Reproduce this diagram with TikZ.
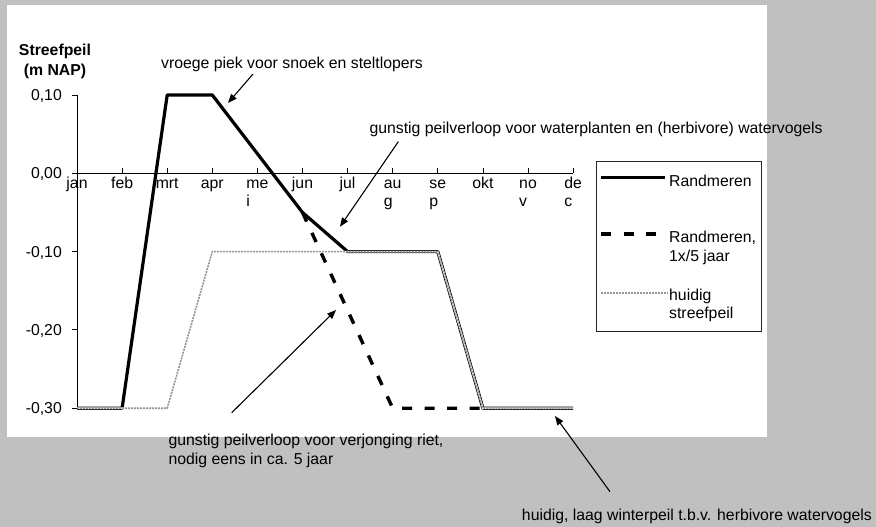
\documentclass[tikz,border=0pt]{standalone}
\usepackage{fontspec}
\setmainfont{Liberation Sans}
\usetikzlibrary{arrows.meta}

\definecolor{achtergrond}{RGB}{192,192,192}
\definecolor{huidiggrijs}{RGB}{150,150,150}

\begin{document}
\begin{tikzpicture}[x=1pt,y=-1pt,
    every node/.style={font=\fontsize{15.8}{17.7}\selectfont,inner sep=0pt},
    pijl/.style={-{Triangle[length=9pt,width=7pt]},line width=1.1pt},
    randlijn/.style={line width=3.2pt,line join=round},
    vijfjaar/.style={line width=3.4pt,dash pattern=on 10pt off 12.5pt},
    onder/.style={line width=1.6pt,white},
    huidiglijn/.style={line width=1.6pt,huidiggrijs,dash pattern=on 2pt off 1pt}]

    \path[use as bounding box,fill=achtergrond] (0,0) rectangle (876,527);
    \fill[white] (7,5) rectangle (767,437);

    \node[font=\fontsize{15.8}{17.7}\selectfont\bfseries,align=center,anchor=north] (titel) at (55,42.6) {\strut Streefpeil\\[2.3pt](m NAP)};

    \begin{scope}[shift={(77pt,-173.3pt)},x=45.1pt,y=783pt]
    % assen
    \draw[line width=0.8pt] (0,0) -- (11,0);
    \draw[line width=0.8pt] (0,0.10) -- (0,-0.30);
    \foreach \m in {1,...,11}
        \draw[line width=0.8pt] (\m,0) -- ++(0,5pt);
    \foreach \v/\tekst [count=\k] in {0.10/{0,10},0.00/{0,00},-0.10/{-0,10},-0.20/{-0,20},-0.30/{-0,30}}
    {
        \draw[line width=0.8pt] (0,\v) -- ++(-5pt,0);
        \node[anchor=base east] (yl\k) at ([xshift=-15pt,yshift=-5.5pt]0,\v) {\tekst};
    }
    \foreach \maand [count=\k from 0] in {jan,feb,mrt,apr,{me\\i},jun,jul,{au\\g},{se\\p},okt,{no\\v},{de\\c}}
        \node[anchor=north,align=left] (m\k) at ([yshift=-2.7pt]\k,0) {\strut\maand};

    % reeksen
    \draw[randlijn] (0,-0.30) -- (1,-0.30) -- (2,0.10) -- (3,0.10) -- (5,-0.05) -- (6,-0.10)
        -- (8,-0.10) -- (9,-0.30) -- (11,-0.30);
    \draw[vijfjaar] (5,-0.05) -- (7,-0.30) -- (9,-0.30);
    \draw[onder] (0,-0.30) -- (2,-0.30) -- (3,-0.10) -- (8,-0.10) -- (9,-0.30) -- (11,-0.30);
    \draw[huidiglijn] (0,-0.30) -- (2,-0.30) -- (3,-0.10) -- (8,-0.10) -- (9,-0.30) -- (11,-0.30);
    \end{scope}

    % legenda
    \draw[line width=0.8pt,black!85] (596,161.5) rectangle (761.5,331.7);
    \draw[randlijn] (601,177.3) -- (665,177.3);
    \node[anchor=base west] (legRand) at (669,186.7) {Randmeren};
    \draw[vijfjaar] (601,234) -- (665,234);
    \node[anchor=north west,align=left] (legVijf) at (669,230.3) {\strut Randmeren,\\[1.3pt]1x/5 jaar};
    \draw[onder] (601,292.7) -- (668,292.7);
    \draw[huidiglijn] (601,292.7) -- (668,292.7);
    \node[anchor=north west,align=left] (legHuidig) at (669,287.6) {\strut huidig\\[0.6pt]streefpeil};

    % toelichting
    \node[anchor=base west] (piek) at (161,68.3) {vroege piek voor snoek en steltlopers};
    \coordinate (piekStart) at (253,74);
    \coordinate (piekEind) at (228,103);
    \draw[pijl] (piekStart) -- (piekEind);

    \node[anchor=base west] (waterplanten) at (369.3,133.3) {gunstig peilverloop voor waterplanten en (herbivore) watervogels};
    \coordinate (plantStart) at (398.3,141.7);
    \coordinate (plantEind) at (340,226.7);
    \draw[pijl] (plantStart) -- (plantEind);

    \node[anchor=north west,align=left] (riet) at (168.3,432.6) {\strut gunstig peilverloop voor verjonging riet,\\[1.3pt]nodig eens in ca. 5 jaar};
    \coordinate (rietStart) at (231.7,412.7);
    \coordinate (rietEind) at (336,310);
    \draw[pijl] (rietStart) -- (rietEind);

    \node[anchor=base east] (winterpeil) at (872,520.7) {huidig, laag winterpeil t.b.v. herbivore watervogels};
    \coordinate (winterStart) at (610,491.7);
    \coordinate (winterEind) at (555,416);
    \draw[pijl] (winterStart) -- (winterEind);
\end{tikzpicture}
\end{document}
